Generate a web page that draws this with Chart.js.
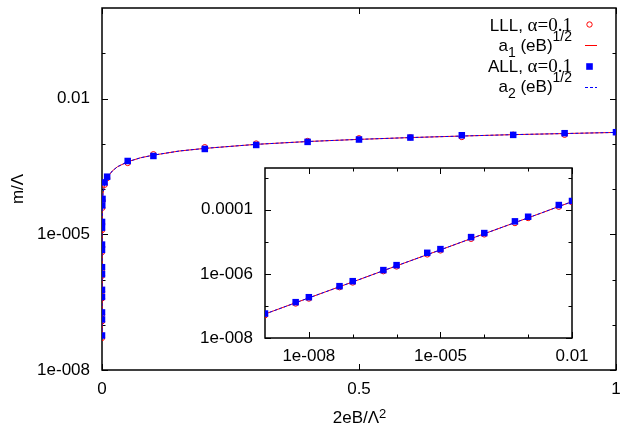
<!DOCTYPE html>
<html>
<head>
<meta charset="utf-8">
<script src="https://cdn.jsdelivr.net/npm/chart.js@4.4.0/dist/chart.umd.min.js"></script>
<style>
  body { margin: 0; background: #fff; }
  #wrap { position: relative; width: 621px; height: 426px; overflow: hidden; }
  #mainChart { position: absolute; left: 0; top: 0; }
  #insetChart { position: absolute; left: 180px; top: 158px; }
</style>
</head>
<body>
<div id="wrap">
  <canvas id="mainChart" width="621" height="426"></canvas>
  <canvas id="insetChart" width="420" height="218"></canvas>
</div>
<script>
// 2eB/Lambda^2 of the computed points
const fieldB = [1e-9, 5e-9, 1e-8, 5e-8, 1e-7, 5e-7, 1e-6, 5e-6, 1e-5, 5e-5, 1e-4, 5e-4, 1e-3, 5e-3, 1e-2,
  0.05, 0.1, 0.2, 0.3, 0.4, 0.5, 0.6, 0.7, 0.8, 0.9, 1.0];
// m/Lambda, LLL (red circles)
const massLLL = [5.13e-8, 1.19e-7, 1.70e-7, 3.84e-7, 5.38e-7, 1.21e-6, 1.70e-6, 4.04e-6, 5.38e-6, 1.24e-5, 1.70e-5, 3.84e-5, 5.51e-5, 1.24e-4, 1.74e-4,
  3.76e-4, 5.86e-4, 8.38e-4, 1.01e-3, 1.15e-3, 1.32e-3, 1.39e-3, 1.41e-3, 1.58e-3, 1.58e-3, 1.78e-3];
// m/Lambda, ALL (blue squares)
const massALL = [5.79e-8, 1.31e-7, 1.87e-7, 4.13e-7, 5.91e-7, 1.31e-6, 1.87e-6, 4.53e-6, 5.91e-6, 1.40e-5, 1.87e-5, 4.34e-5, 6.04e-5, 1.40e-4, 1.87e-4,
  4.16e-4, 5.37e-4, 7.67e-4, 9.40e-4, 1.10e-3, 1.24e-3, 1.37e-3, 1.54e-3, 1.57e-3, 1.71e-3, 1.80e-3];

// fit curves a1 (eB)^1/2 and a2 (eB)^1/2
const fitB = [1e-9, 1e-8, 1e-7, 1e-6, 1e-5, 1e-4, 1e-3, 0.002, 0.005, 0.01, 0.02, 0.03, 0.05, 0.075,
  0.1, 0.15, 0.2, 0.3, 0.4, 0.5, 0.6, 0.7, 0.8, 0.9, 1.0];
const fitA1 = [5.6e-8, 1.78e-7, 5.6e-7, 1.78e-6, 5.6e-6, 1.78e-5, 5.6e-5, 7.9e-5, 1.26e-4, 1.78e-4, 2.5e-4, 3.1e-4, 4.0e-4, 4.9e-4,
  5.6e-4, 6.9e-4, 7.9e-4, 9.7e-4, 1.12e-3, 1.25e-3, 1.37e-3, 1.48e-3, 1.59e-3, 1.68e-3, 1.78e-3];
const fitA2 = [5.6e-8, 1.78e-7, 5.6e-7, 1.78e-6, 5.6e-6, 1.78e-5, 5.6e-5, 7.9e-5, 1.26e-4, 1.78e-4, 2.5e-4, 3.1e-4, 4.0e-4, 4.9e-4,
  5.6e-4, 6.9e-4, 7.9e-4, 9.7e-4, 1.12e-3, 1.25e-3, 1.37e-3, 1.48e-3, 1.59e-3, 1.68e-3, 1.78e-3];

// tick labels
const mainXTicks = [0, 0.5, 1];
const mainXLabels = ['0', '0.5', '1'];
const mainYTicks = [1e-8, 1e-5, 1e-2];
const mainYLabels = ['1e-008', '1e-005', '0.01'];
const mainYMinor = [1e-7, 1e-6, 1e-4, 1e-3, 0.1];
const insetXTicks = [1e-8, 1e-5, 1e-2];
const insetXLabels = ['1e-008', '1e-005', '0.01'];
const insetXMinor = [1e-7, 1e-6, 1e-4, 1e-3];
const insetYTicks = [1e-8, 1e-6, 1e-4];
const insetYLabels = ['1e-008', '1e-006', '0.0001'];
const insetYMinor = [1e-7, 1e-5, 1e-3];

const RED = '#ff0000';
const BLUE = '#0000ff';
const SANS = "'Liberation Sans', Arial, sans-serif";
const SERIF = "'Liberation Serif', 'Times New Roman', serif";

Chart.defaults.font.family = SANS;
Chart.defaults.font.size = 17;
Chart.defaults.color = '#000';

function pts(xs, ys, maxX) {
  const out = [];
  xs.forEach((x, i) => { if (x <= maxX) out.push({ x: x, y: ys[i] }); });
  return out;
}

// frame and inward tick marks (gnuplot style)
const frameTicks = {
  id: 'frameTicks',
  beforeDatasetsDraw(chart, args, o) {
    const { ctx, chartArea: a } = chart;
    const xs = chart.scales.x, ys = chart.scales.y;
    ctx.save();
    ctx.strokeStyle = '#000';
    ctx.lineWidth = 1;
    ctx.beginPath();
    const xt = (list, len) => list.forEach(v => {
      const px = Math.round(xs.getPixelForValue(v)) + 0.5;
      ctx.moveTo(px, a.bottom); ctx.lineTo(px, a.bottom - len);
      ctx.moveTo(px, a.top); ctx.lineTo(px, a.top + len);
    });
    const yt = (list, len) => list.forEach(v => {
      const py = Math.round(ys.getPixelForValue(v)) + 0.5;
      ctx.moveTo(a.left, py); ctx.lineTo(a.left + len, py);
      ctx.moveTo(a.right, py); ctx.lineTo(a.right - len, py);
    });
    xt(o.xMajor, 6); xt(o.xMinor, 3.5);
    yt(o.yMajor, 6); yt(o.yMinor, 3.5);
    ctx.stroke();
    ctx.lineWidth = 1.5;
    ctx.strokeRect(a.left, a.top, a.right - a.left, a.bottom - a.top);
    ctx.restore();
  }
};

// text made of pieces (sub/superscripts, serif alpha)
function richWidth(ctx, parts) {
  let w = 0;
  parts.forEach(p => { ctx.font = p.f; w += ctx.measureText(p.t).width; });
  return w;
}
function drawRich(ctx, parts, x, y) {
  parts.forEach(p => {
    ctx.font = p.f;
    ctx.fillText(p.t, x, y + (p.dy || 0));
    x += ctx.measureText(p.t).width;
  });
}

const labelsPlugin = {
  id: 'labelsPlugin',
  afterDraw(chart) {
    const ctx = chart.ctx;
    const big = '17px ' + SANS, small = '14px ' + SANS, greek = '19px ' + SERIF;
    ctx.save();
    ctx.fillStyle = '#000';
    ctx.textAlign = 'left';
    ctx.textBaseline = 'alphabetic';

    // key, right aligned text
    const rows = [
      [{ t: 'LLL, ', f: big }, { t: 'α=0.1', f: greek }],
      [{ t: 'a', f: big }, { t: '1', f: small, dy: 6 }, { t: ' (eB)', f: big }, { t: '1/2', f: small, dy: -10 }],
      [{ t: 'ALL, ', f: big }, { t: 'α=0.1', f: greek }],
      [{ t: 'a', f: big }, { t: '2', f: small, dy: 6 }, { t: ' (eB)', f: big }, { t: '1/2', f: small, dy: -10 }]
    ];
    const base = [30.7, 51.2, 71.7, 92.2];
    rows.forEach((r, i) => drawRich(ctx, r, 572 - richWidth(ctx, r), base[i]));

    const sx = 589.5;
    ctx.lineWidth = 1;
    ctx.strokeStyle = RED;
    ctx.beginPath(); ctx.arc(sx, 24.5, 2.7, 0, Math.PI * 2); ctx.stroke();
    ctx.beginPath(); ctx.moveTo(585, 45.5); ctx.lineTo(597, 45.5); ctx.stroke();
    ctx.fillStyle = BLUE;
    ctx.fillRect(sx - 3.3, 66.5 - 3.3, 6.6, 6.6);
    ctx.strokeStyle = BLUE;
    ctx.setLineDash([3, 2]);
    ctx.beginPath(); ctx.moveTo(585, 87.5); ctx.lineTo(597, 87.5); ctx.stroke();
    ctx.setLineDash([]);

    // axis titles
    ctx.fillStyle = '#000';
    const xt = [{ t: '2eB/Λ', f: big }, { t: '2', f: '13px ' + SANS, dy: -5 }];
    drawRich(ctx, xt, 359.5 - richWidth(ctx, xt) / 2, 422.5);

    ctx.font = big;
    ctx.translate(18.5, 189);
    ctx.rotate(-Math.PI / 2);
    ctx.textAlign = 'center';
    ctx.textBaseline = 'middle';
    ctx.fillText('m/Λ', 0, 0);
    ctx.restore();
  }
};

function axis(type, min, max, ticks, labels, pad, size) {
  return {
    type: type, min: min, max: max,
    grid: { display: false, drawTicks: false },
    border: { display: false },
    afterBuildTicks: s => { s.ticks = ticks.map(v => ({ value: v })); },
    // fixed box size, no extra room for edge labels
    afterFit: s => {
      if (s.isHorizontal()) s.height = size; else s.width = size;
      s.paddingLeft = s.paddingRight = s.paddingTop = s.paddingBottom = 0;
    },
    ticks: { autoSkip: false, maxRotation: 0, padding: pad, callback: (v, i) => labels[i] }
  };
}

function datasets(maxX) {
  return [
    {
      label: 'LLL, α=0.1', data: pts(fieldB, massLLL, maxX),
      pointStyle: 'circle', pointRadius: 2.7, borderWidth: 1,
      borderColor: RED, backgroundColor: 'rgba(0,0,0,0)', order: 4
    },
    {
      label: 'a1 (eB)^1/2', data: pts(fitB, fitA1, maxX), showLine: true,
      borderColor: RED, backgroundColor: RED, borderWidth: 1, pointRadius: 0, order: 3
    },
    {
      label: 'ALL, α=0.1', data: pts(fieldB, massALL, maxX),
      pointStyle: 'rect', pointRadius: 4.6, borderWidth: 0,
      borderColor: BLUE, backgroundColor: BLUE, order: 2
    },
    {
      label: 'a2 (eB)^1/2', data: pts(fitB, fitA2, maxX), showLine: true,
      borderColor: BLUE, backgroundColor: BLUE, borderWidth: 1, borderDash: [3, 2], pointRadius: 0, order: 1
    }
  ];
}

const common = {
  responsive: false,
  animation: false,
  devicePixelRatio: 1,
  events: []
};

// main plot
new Chart(document.getElementById('mainChart'), {
  type: 'scatter',
  data: { datasets: datasets(1) },
  options: Object.assign({}, common, {
    layout: { padding: { top: 8, right: 4, left: 0, bottom: 0 } },
    scales: {
      x: axis('linear', 0, 1, mainXTicks, mainXLabels, 9, 56),
      y: axis('logarithmic', 1e-8, 1, mainYTicks, mainYLabels, 12, 102)
    },
    plugins: {
      legend: { display: false },
      tooltip: { enabled: false },
      frameTicks: { xMajor: mainXTicks, xMinor: [], yMajor: mainYTicks, yMinor: mainYMinor }
    }
  }),
  plugins: [frameTicks, labelsPlugin]
});

// inset, log-log
new Chart(document.getElementById('insetChart'), {
  type: 'scatter',
  data: { datasets: datasets(0.01) },
  options: Object.assign({}, common, {
    layout: { padding: { top: 10, right: 28, left: 0, bottom: 0 } },
    scales: {
      x: axis('logarithmic', 1e-9, 1e-2, insetXTicks, insetXLabels, 8, 38),
      y: axis('logarithmic', 1e-8, 2e-3, insetYTicks, insetYLabels, 12, 85)
    },
    plugins: {
      legend: { display: false },
      tooltip: { enabled: false },
      frameTicks: { xMajor: insetXTicks, xMinor: insetXMinor, yMajor: insetYTicks, yMinor: insetYMinor }
    }
  }),
  plugins: [frameTicks]
});
</script>
</body>
</html>
